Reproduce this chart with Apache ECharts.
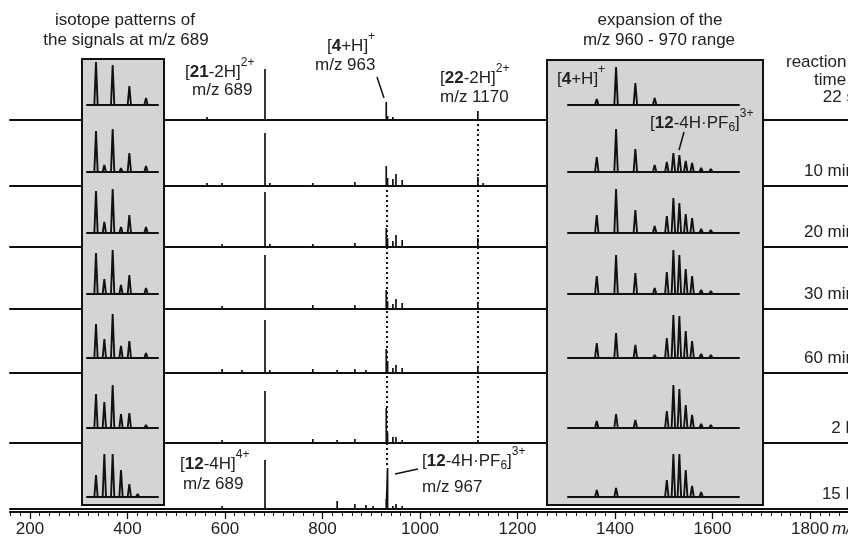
<!DOCTYPE html>
<html>
<head>
<meta charset="utf-8">
<script src="https://cdn.jsdelivr.net/npm/echarts@6/dist/echarts.min.js"></script>
<style>
  html, body { margin: 0; padding: 0; background: #fff; }
  #chart-container { width: 848px; height: 544px; }
</style>
</head>
<body>
<div id="chart-container"></div>
<script>
var dom = document.getElementById("chart-container");
var myChart = echarts.init(dom, null, { renderer: "canvas" });

// reaction times, one spectrum per row
var times = ["22 s", "10 min", "20 min", "30 min", "60 min", "2 h", "15 h"];

// full spectra (m/z, rel. intensity a.u.)
var mainMz = [558, 592, 637, 664, 689, 700, 768, 777, 797, 852, 892, 917, 933, 963, 966, 978, 985, 999, 1037, 1145, 1170, 1182];
var main22s  = [3, 1, 0, 0, 51, 1, 1, 0, 1, 0, 1, 1, 0, 18, 4, 3, 2, 1, 0, 1, 9, 2];
var main10m  = [3, 3, 1, 1, 53, 3, 2, 2, 3, 1, 4, 2, 2, 20, 8, 7, 12, 6, 1, 2, 9, 3];
var main20m  = [2, 3, 1, 1, 55, 3, 2, 2, 3, 1, 4, 2, 2, 19, 9, 6, 12, 7, 1, 2, 9, 2];
var main30m  = [2, 3, 1, 1, 54, 2, 1, 1, 4, 2, 4, 2, 2, 19, 8, 5, 10, 6, 1, 2, 7, 2];
var main60m  = [2, 4, 3, 2, 53, 3, 1, 1, 4, 3, 4, 3, 2, 24, 12, 5, 8, 5, 1, 2, 5, 2];
var main2h   = [2, 3, 1, 2, 52, 2, 1, 1, 4, 3, 4, 2, 2, 35, 10, 6, 6, 3, 1, 2, 3, 2];
var main15h  = [2, 3, 1, 1, 49, 1, 1, 1, 2, 8, 5, 4, 3, 10, 41, 3, 5, 3, 1, 1, 1, 1];

// isotope patterns at m/z 689
var isoMz = [689.0, 689.25, 689.5, 689.75, 690.0, 690.25, 690.5];
var iso22s = [43, 0, 40, 0, 19, 0, 7];
var iso10m = [41, 7, 43, 4, 19, 0, 6];
var iso20m = [42, 11, 44, 6, 18, 2, 6];
var iso30m = [41, 15, 44, 9, 19, 2, 6];
var iso60m = [34, 19, 44, 12, 17, 2, 5];
var iso2h  = [34, 26, 43, 14, 15, 2, 3];
var iso15h = [22, 43, 43, 27, 13, 3, 0];

// expansion of m/z 960 - 970
var expMz = [962.0, 963.0, 964.0, 965.0, 965.63, 965.97, 966.28, 966.61, 966.94, 967.41, 967.91];
var exp22s = [6, 38, 22, 7, 1, 1, 1, 1, 1, 0, 0];
var exp10m = [15, 43, 23, 7, 10, 19, 17, 11, 9, 4, 3];
var exp20m = [18, 44, 23, 7, 17, 35, 30, 19, 15, 4, 3];
var exp30m = [18, 39, 21, 6, 22, 44, 39, 25, 18, 4, 3];
var exp60m = [15, 25, 13, 3, 20, 43, 42, 27, 17, 4, 3];
var exp2h  = [7, 14, 8, 0, 17, 43, 39, 23, 13, 4, 3];
var exp15h = [7, 9, 2, 0, 17, 43, 43, 27, 11, 5, 1];

var tickLabels = [200, 400, 600, 800, 1000, 1200, 1400, 1600, 1800];

var mainRows = [main22s, main10m, main20m, main30m, main60m, main2h, main15h];
var isoRows = [iso22s, iso10m, iso20m, iso30m, iso60m, iso2h, iso15h];
var expRows = [exp22s, exp10m, exp20m, exp30m, exp60m, exp2h, exp15h];

// layout
var FONT = '"Liberation Sans", Arial, Helvetica, sans-serif';
var INK = "#111";
var rowBase = [120, 186, 247, 309, 373, 443, 509];
var firstTop = 57;
var insetBase = [105, 172, 233, 294, 358, 428, 497];
var insetH = 50;
var mainRange = [112.7, 2006.5];
var isoRange = [688.73, 690.86];
var expRange = [960.51, 969.37];
var axisRange = [159, 1877.9];

function sticks(mz, val, lo, hi, hw) {
  var pts = [[lo, 0]];
  for (var i = 0; i < mz.length; i++) {
    if (!val[i]) continue;
    pts.push([mz[i] - hw, 0], [mz[i], val[i]], [mz[i] + hw, 0]);
  }
  pts.push([hi, 0]);
  return pts;
}

var grids = [], xAxes = [], yAxes = [], series = [];

function addPanel(grid, range, ymax, baseWidth, z) {
  var idx = grids.length;
  grid.outerBoundsMode = "none";
  grids.push(grid);
  xAxes.push({
    type: "value", gridIndex: idx, min: range[0], max: range[1], z: z,
    axisLine: { show: true, lineStyle: { color: INK, width: baseWidth } },
    axisTick: { show: false }, axisLabel: { show: false }, splitLine: { show: false }
  });
  yAxes.push({ type: "value", gridIndex: idx, min: 0, max: ymax, show: false, splitLine: { show: false } });
  return idx;
}

function dotted(data) {
  return {
    silent: true, symbol: ["none", "none"], label: { show: false },
    lineStyle: { color: INK, type: [2, 3], width: 2 },
    emphasis: { disabled: true },
    data: data
  };
}

// main spectra rows
for (var k = 0; k < 7; k++) {
  var rowTop = k === 0 ? firstTop : rowBase[k - 1];
  var rowH = rowBase[k] - rowTop;
  var gi = addPanel({ left: 10, right: 0, top: rowTop, height: rowH }, mainRange, rowH, 2, 0);
  var ml = [];
  if (k >= 1 && k <= 5) ml.push({ xAxis: 1170 });
  if (k >= 2 && k <= 5) ml.push({ xAxis: 963 });
  if (k === 6) ml.push([{ coord: [963, rowH] }, { coord: [963, main15h[14]] }]);
  var s = {
    type: "line", xAxisIndex: gi, yAxisIndex: gi, z: 2,
    symbol: "none", animation: false, silent: true,
    lineStyle: { color: INK, width: 1.7 },
    data: sticks(mainMz, mainRows[k], mainRange[0], mainRange[1], 0)
  };
  if (ml.length) s.markLine = dotted(ml);
  series.push(s);
}

// inset spectra
for (var k = 0; k < 7; k++) {
  var gl = addPanel({ left: 87, width: 71, top: insetBase[k] - insetH, height: insetH }, isoRange, insetH, 2, 10);
  series.push({
    type: "line", xAxisIndex: gl, yAxisIndex: gl, z: 12,
    symbol: "none", animation: false, silent: true,
    lineStyle: { color: INK, width: 1.9 },
    data: sticks(isoMz, isoRows[k], isoRange[0], isoRange[1], 0.05)
  });
  var gr = addPanel({ left: 568, width: 171, top: insetBase[k] - insetH, height: insetH }, expRange, insetH, 2, 10);
  series.push({
    type: "line", xAxisIndex: gr, yAxisIndex: gr, z: 12,
    symbol: "none", animation: false, silent: true,
    lineStyle: { color: INK, width: 1.9 },
    data: sticks(expMz, expRows[k], expRange[0], expRange[1], 0.09)
  });
}

// bottom m/z axis
var minorTicks = [];
for (var t = 160; t <= 1860; t += 20) minorTicks.push(t);
var gb = grids.length;
grids.push({ left: 10, right: 0, top: 508, height: 4, outerBoundsMode: "none" });
yAxes.push({ type: "value", gridIndex: gb, min: 0, max: 1, show: false, splitLine: { show: false } });
xAxes.push({
  type: "value", gridIndex: gb, position: "bottom", min: axisRange[0], max: axisRange[1],
  axisLine: { show: true, onZero: false, lineStyle: { color: INK, width: 2 } },
  axisTick: { show: true, length: 4, customValues: minorTicks, lineStyle: { color: INK, width: 1 } },
  axisLabel: {
    show: true, customValues: tickLabels, margin: 9, color: "#222", fontSize: 17, fontFamily: FONT,
    formatter: function (v) { return String(v); }
  },
  splitLine: { show: false }
});
xAxes.push({
  type: "value", gridIndex: gb, position: "bottom", min: axisRange[0], max: axisRange[1],
  axisLine: { show: false, onZero: false },
  axisTick: { show: true, length: 7, customValues: tickLabels, lineStyle: { color: INK, width: 1.3 } },
  axisLabel: { show: false },
  splitLine: { show: false }
});

// text helpers
var measureCtx = document.createElement("canvas").getContext("2d");
function textWidth(str, size, weight) {
  measureCtx.font = weight + " " + size + "px " + FONT;
  return measureCtx.measureText(str).width;
}
function txt(x, y, str, align, extra) {
  var st = { text: str, fill: "#222", fontSize: 17, fontFamily: FONT, align: align || "left", verticalAlign: "middle" };
  if (extra) for (var key in extra) st[key] = extra[key];
  return { type: "text", x: x, y: y, z: 20, style: st };
}
function formula(x, y, parts) {
  var els = [], cx = x;
  parts.forEach(function (p) {
    var kind = p[1] || "n";
    var small = kind === "sup" || kind === "sub";
    var size = small ? 12 : 17;
    var weight = kind === "b" ? "bold" : "normal";
    var dy = kind === "sup" ? -9 : (kind === "sub" ? 5 : 0);
    els.push(txt(cx, y + dy, p[0], "left", { fontSize: size, fontWeight: weight }));
    cx += textWidth(p[0], size, weight);
  });
  return els;
}
function seg(x1, y1, x2, y2) {
  return { type: "line", z: 20, shape: { x1: x1, y1: y1, x2: x2, y2: y2 }, style: { stroke: INK, lineWidth: 1.5 } };
}

var graphics = [
  { type: "rect", z: 8, shape: { x: 82, y: 59, width: 82, height: 446 }, style: { fill: "#d4d4d4", stroke: INK, lineWidth: 2 } },
  { type: "rect", z: 8, shape: { x: 547, y: 60, width: 216, height: 445 }, style: { fill: "#d4d4d4", stroke: INK, lineWidth: 2 } },
  txt(125, 20, "isotope patterns of", "center"),
  txt(126, 40, "the signals at m/z 689", "center"),
  txt(660, 20, "expansion of the", "center"),
  txt(659, 40, "m/z 960 - 970 range", "center"),
  txt(786, 62, "reaction", "left"),
  txt(814, 80, "time", "left"),
  txt(192, 90, "m/z 689", "left"),
  txt(315, 65, "m/z 963", "left"),
  txt(440, 97, "m/z 1170", "left"),
  txt(183, 484, "m/z 689", "left"),
  txt(422, 487, "m/z 967", "left"),
  txt(832, 529, "m/z", "left", { fontStyle: "italic" }),
  seg(377, 77, 384, 98),
  seg(684, 132, 679, 150),
  seg(395, 474, 418, 469)
];
var timeY = [97, 171, 232, 294, 358, 428, 494];
times.forEach(function (str, i) { graphics.push(txt(855, timeY[i], str, "right")); });
graphics = graphics
  .concat(formula(185, 72, [["["], ["21", "b"], ["-2H]"], ["2+", "sup"]]))
  .concat(formula(327, 46, [["["], ["4", "b"], ["+H]"], ["+", "sup"]]))
  .concat(formula(440, 78, [["["], ["22", "b"], ["-2H]"], ["2+", "sup"]]))
  .concat(formula(557, 79, [["["], ["4", "b"], ["+H]"], ["+", "sup"]]))
  .concat(formula(650, 123, [["["], ["12", "b"], ["-4H\u00b7PF"], ["6", "sub"], ["]"], ["3+", "sup"]]))
  .concat(formula(180, 464, [["["], ["12", "b"], ["-4H]"], ["4+", "sup"]]))
  .concat(formula(422, 461, [["["], ["12", "b"], ["-4H\u00b7PF"], ["6", "sub"], ["]"], ["3+", "sup"]]));

var option = {
  backgroundColor: "#fff",
  animation: false,
  grid: grids,
  xAxis: xAxes,
  yAxis: yAxes,
  series: series,
  graphic: { elements: graphics }
};

myChart.setOption(option);
window.addEventListener("resize", myChart.resize);
</script>
</body>
</html>
